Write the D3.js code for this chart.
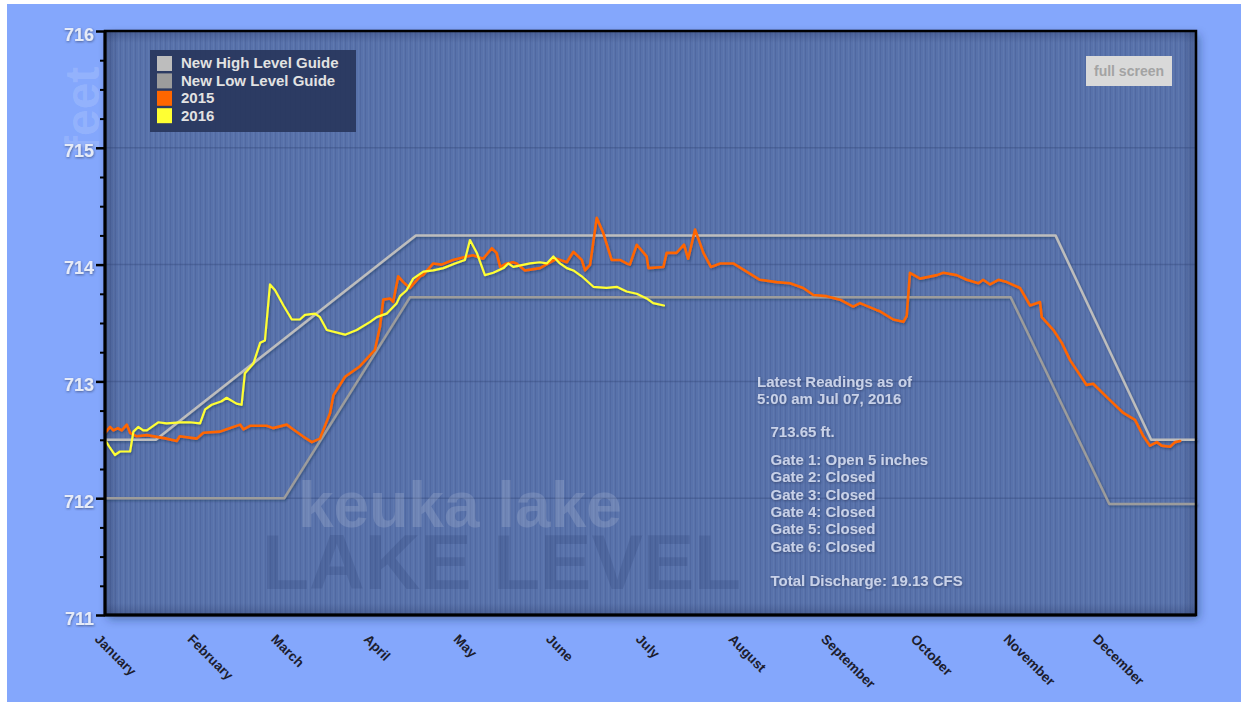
<!DOCTYPE html>
<html>
<head>
<meta charset="utf-8">
<script src="https://cdn.jsdelivr.net/npm/d3@7"></script>
<style>
  body { margin: 0; background: #fff; }
  svg { display: block; font-family: "Liberation Sans", Arial, Helvetica, sans-serif; }
</style>
</head>
<body>
<div id="chart"></div>
<script>
// ---- data ----
const monthNames = ["January", "February", "March", "April", "May", "June", "July",
  "August", "September", "October", "November", "December"];
const monthStarts = [0, 31, 59, 90, 120, 151, 181, 212, 243, 273, 304, 334];
const yMajor = [711, 712, 713, 714, 715, 716];

const highGuideDays = [0, 17, 104, 318, 350, 365];
const highGuideLevels = [712.5, 712.5, 714.25, 714.25, 712.5, 712.5];
const lowGuideDays = [0, 60, 102, 303, 336, 365];
const lowGuideLevels = [712, 712, 713.72, 713.72, 711.95, 711.95];

const days2015 = [0, 1.7, 2.8, 4.3, 5.6, 7.3, 8.4, 10.6, 14, 20.6, 24, 25, 30.7, 32.9, 38.5, 40.7,
  45.2, 46.3, 48.5, 54.1, 56.2, 60.8, 62.9, 66.2, 69.2, 71.9, 75.3, 76.4, 80.3, 85.3, 90.3, 92,
  93.1, 95.3, 96.4, 98.1, 99.8, 102, 105.4, 106.4, 109.8, 112.6, 116.4, 121, 123.1, 126.5, 129.4,
  131, 132.2, 134.4, 136.5, 137.7, 140.5, 145.5, 148.9, 151.1, 154.5, 156.7, 159.5, 160.6, 162.3,
  164.5, 166.7, 169.5, 172.3, 174.5, 175.6, 177.9, 181.2, 181.8, 186.8, 187.9, 191.2, 193.7, 195.1,
  197.4, 200.2, 202.7, 205.8, 210.2, 219.1, 224.7, 229.2, 233.6, 237, 241.4, 245.9, 250.3, 252.6,
  258.2, 259.3, 263.7, 267.1, 268.2, 269.3, 272.7, 278.3, 280.5, 284.9, 288.3, 292.2, 293.8, 296.1,
  298.9, 301.7, 306.1, 309.5, 312.8, 313.4, 317.3, 320.1, 322.9, 328.4, 330.6, 336.2, 340.7, 344.6,
  347.4, 349.6, 351.9, 353.5, 356.3, 358, 359.7];
const levels2015 = [712.56, 712.61, 712.58, 712.60, 712.58, 712.63, 712.56, 712.53, 712.54, 712.51,
  712.49, 712.53, 712.51, 712.56, 712.57, 712.59, 712.63, 712.59, 712.62, 712.62, 712.60, 712.63,
  712.59, 712.53, 712.48, 712.51, 712.73, 712.88, 713.04, 713.13, 713.27, 713.47, 713.70, 713.71,
  713.68, 713.90, 713.85, 713.80, 713.90, 713.91, 714.01, 714.00, 714.04, 714.07, 714.08, 714.05,
  714.14, 714.10, 713.98, 714.01, 714.02, 714.01, 713.95, 713.97, 714.02, 714.05, 714.02, 714.11,
  714.04, 713.95, 714.00, 714.40, 714.27, 714.04, 714.04, 714.01, 714.00, 714.17, 714.07, 713.97,
  713.98, 714.10, 714.10, 714.17, 714.05, 714.30, 714.10, 713.98, 714.01, 714.01, 713.87, 713.85,
  713.84, 713.80, 713.74, 713.73, 713.70, 713.64, 713.67, 713.61, 713.60, 713.53, 713.51, 713.56,
  713.93, 713.88, 713.91, 713.93, 713.91, 713.87, 713.84, 713.87, 713.83, 713.87, 713.85, 713.80,
  713.65, 713.68, 713.55, 713.44, 713.33, 713.18, 712.97, 712.98, 712.84, 712.73, 712.67, 712.53,
  712.45, 712.48, 712.45, 712.44, 712.48, 712.49];

const days2016 = [0, 1.7, 3.3, 5, 8.4, 9.5, 11.1, 12.8, 14, 17.8, 20.6, 25.1, 28.4, 31.8, 33.5,
  35.7, 39, 40.7, 44, 45.7, 46.8, 49.6, 51.9, 53.5, 55.2, 56.9, 59.7, 62.5, 65.2, 66.9, 70.3, 71.9,
  74.2, 80.3, 84.2, 88.7, 90.9, 94.2, 97.6, 98.7, 100.9, 103.1, 106.5, 109.8, 113.2, 117.1, 120.4,
  122.1, 124.4, 127.1, 129.9, 133.3, 134.9, 136.6, 142.2, 145.5, 147.8, 150, 152.2, 154.5, 156.7,
  159.5, 163.4, 167.8, 171.2, 174.5, 177.9, 181.2, 183.4, 187];
const levels2016 = [712.50, 712.43, 712.37, 712.40, 712.40, 712.57, 712.61, 712.58, 712.58, 712.65,
  712.64, 712.65, 712.65, 712.64, 712.76, 712.80, 712.83, 712.86, 712.81, 712.80, 713.07, 713.15,
  713.33, 713.35, 713.83, 713.78, 713.65, 713.53, 713.53, 713.57, 713.58, 713.55, 713.44, 713.40,
  713.44, 713.51, 713.55, 713.58, 713.67, 713.73, 713.78, 713.88, 713.94, 713.95, 713.97, 714.01,
  714.04, 714.21, 714.10, 713.91, 713.93, 713.97, 714.01, 713.98, 714.01, 714.02, 714.01, 714.07,
  714.01, 713.97, 713.95, 713.90, 713.81, 713.80, 713.81, 713.77, 713.75, 713.71, 713.67, 713.65];

const legendLabels = ["New High Level Guide", "New Low Level Guide", "2015", "2016"];
const legendColors = ["#bdbdbd", "#9c9c9c", "#ff6600", "#ffff33"];

const readingHead = ["Latest Readings as of", "5:00 am Jul 07, 2016"];
const readingLevel = "713.65 ft.";
const gateLines = ["Gate 1: Open 5 inches", "Gate 2: Closed", "Gate 3: Closed",
  "Gate 4: Closed", "Gate 5: Closed", "Gate 6: Closed"];
const dischargeLine = "Total Discharge: 19.13 CFS";

// ---- layout ----
const W = 1241, H = 702;
const plot = { left: 105, top: 31, right: 1196, bottom: 615 };

const svg = d3.select("#chart").append("svg").attr("width", W).attr("height", H);
const defs = svg.append("defs");

const x = d3.scaleLinear().domain([0, 365]).range([plot.left, plot.right]);
const y = d3.scaleLinear().domain([711, 716]).range([plot.bottom, plot.top]);

// stripes in plot background
const pat = defs.append("pattern").attr("id", "stripes")
  .attr("patternUnits", "userSpaceOnUse").attr("width", 5).attr("height", 10);
pat.append("rect").attr("x", 0).attr("width", 1).attr("height", 10).attr("fill", "rgba(20,30,70,0.10)");
pat.append("rect").attr("x", 3).attr("width", 1).attr("height", 10).attr("fill", "rgba(255,255,255,0.04)");

const shadow = defs.append("filter").attr("id", "boxShadow")
  .attr("x", "-5%").attr("y", "-5%").attr("width", "110%").attr("height", "115%");
shadow.append("feDropShadow").attr("dx", 3).attr("dy", 4).attr("stdDeviation", 5)
  .attr("flood-color", "#1c2a55").attr("flood-opacity", 0.45);

const lineShadow = defs.append("filter").attr("id", "lineShadow")
  .attr("x", "-5%").attr("y", "-20%").attr("width", "110%").attr("height", "140%");
lineShadow.append("feDropShadow").attr("dx", 1).attr("dy", 1.5).attr("stdDeviation", 1.2)
  .attr("flood-color", "#102040").attr("flood-opacity", 0.4);

const textShadow = defs.append("filter").attr("id", "textShadow")
  .attr("x", "-10%").attr("y", "-30%").attr("width", "120%").attr("height", "160%");
textShadow.append("feDropShadow").attr("dx", 0.5).attr("dy", 1).attr("stdDeviation", 1)
  .attr("flood-color", "#1a2748").attr("flood-opacity", 0.55);

function edgeGrad(id, x1, y1, x2, y2) {
  const g = defs.append("linearGradient").attr("id", id)
    .attr("x1", x1).attr("y1", y1).attr("x2", x2).attr("y2", y2);
  g.append("stop").attr("offset", 0).attr("stop-color", "#1a2650").attr("stop-opacity", 0.28);
  g.append("stop").attr("offset", 1).attr("stop-color", "#1a2650").attr("stop-opacity", 0);
}
edgeGrad("gl", 0, 0, 1, 0);
edgeGrad("gr", 1, 0, 0, 0);
edgeGrad("gt", 0, 0, 0, 1);
edgeGrad("gb", 0, 1, 0, 0);

// page background
svg.append("rect").attr("width", W).attr("height", H).attr("fill", "#fff");
svg.append("rect").attr("x", 7).attr("y", 4).attr("width", W - 7).attr("height", H - 4)
  .attr("fill", "#84a7fc");

// faint "feet" axis title
svg.append("text")
  .attr("transform", "translate(99,152) rotate(-90)")
  .attr("text-anchor", "start")
  .attr("font-size", 48).attr("font-weight", "bold")
  .attr("fill", "#ffffff").attr("fill-opacity", 0.15)
  .text("feet");

// plot background
const pw = plot.right - plot.left, ph = plot.bottom - plot.top;
svg.append("rect").attr("x", plot.left).attr("y", plot.top).attr("width", pw).attr("height", ph)
  .attr("fill", "#5872ab").attr("filter", "url(#boxShadow)");
svg.append("rect").attr("x", plot.left).attr("y", plot.top).attr("width", pw).attr("height", ph)
  .attr("fill", "url(#stripes)");
svg.append("rect").attr("x", plot.left).attr("y", plot.top).attr("width", 14).attr("height", ph).attr("fill", "url(#gl)");
svg.append("rect").attr("x", plot.right - 14).attr("y", plot.top).attr("width", 14).attr("height", ph).attr("fill", "url(#gr)");
svg.append("rect").attr("x", plot.left).attr("y", plot.top).attr("width", pw).attr("height", 12).attr("fill", "url(#gt)");
svg.append("rect").attr("x", plot.left).attr("y", plot.bottom - 12).attr("width", pw).attr("height", 12).attr("fill", "url(#gb)");

// grid lines
svg.append("g").selectAll("line").data(yMajor.slice(1, -1)).enter().append("line")
  .attr("x1", plot.left).attr("x2", plot.right)
  .attr("y1", d => y(d)).attr("y2", d => y(d))
  .attr("stroke", "#2f4272").attr("stroke-opacity", 0.35).attr("stroke-width", 1.5);

// watermark
svg.append("text").attr("x", 298).attr("y", 527)
  .attr("font-size", 64).attr("font-weight", "bold")
  .attr("fill", "#ffffff").attr("fill-opacity", 0.14)
  .text("keuka lake");
svg.append("text").attr("x", 262).attr("y", 589)
  .attr("font-size", 77).attr("font-weight", "bold")
  .attr("fill", "#1a2a60").attr("fill-opacity", 0.16)
  .text("LAKE LEVEL");

// readings text
const info = svg.append("g").attr("font-size", 15).attr("font-weight", "bold")
  .attr("fill", "#c8d1e8").attr("filter", "url(#textShadow)");
info.selectAll(".head").data(readingHead).enter().append("text")
  .attr("x", 757).attr("y", (d, i) => 386.7 + i * 17.6).text(d => d);
info.append("text").attr("x", 770.5).attr("y", 436.7).text(readingLevel);
info.selectAll(".gate").data(gateLines).enter().append("text")
  .attr("x", 770.5).attr("y", (d, i) => 465 + i * 17.35).text(d => d);
info.append("text").attr("x", 770.5).attr("y", 586).text(dischargeLine);

// series
const line = d3.line().x(d => x(d[0])).y(d => y(d[1]));
const zip = (a, b) => a.map((d, i) => [d, b[i]]);

const series = svg.append("g").attr("fill", "none").attr("stroke-linejoin", "round")
  .attr("stroke-linecap", "round").attr("filter", "url(#lineShadow)");
series.append("path").attr("d", line(zip(highGuideDays, highGuideLevels)))
  .attr("stroke", legendColors[0]).attr("stroke-width", 2.5);
series.append("path").attr("d", line(zip(lowGuideDays, lowGuideLevels)))
  .attr("stroke", legendColors[1]).attr("stroke-width", 2.5);
series.append("path").attr("d", line(zip(days2015, levels2015)))
  .attr("stroke", legendColors[2]).attr("stroke-width", 2.6);
series.append("path").attr("d", line(zip(days2016, levels2016)))
  .attr("stroke", legendColors[3]).attr("stroke-width", 2.2);

// frame
svg.append("rect").attr("x", plot.left).attr("y", plot.top).attr("width", pw).attr("height", ph)
  .attr("fill", "none").attr("stroke", "#000").attr("stroke-width", 2.5);

// y axis
const minorTicks = d3.range(711, 716.01, 0.25).filter(v => !Number.isInteger(v));
svg.append("g").attr("transform", `translate(${plot.left},0)`)
  .call(d3.axisLeft(y).tickValues(minorTicks).tickSize(5).tickFormat(""))
  .call(g => g.select(".domain").remove())
  .call(g => g.selectAll("line").attr("stroke", "#000").attr("stroke-width", 2));

svg.append("g").attr("transform", `translate(${plot.left},0)`)
  .call(d3.axisLeft(y).tickValues(yMajor).tickSize(9).tickPadding(2).tickFormat(d3.format("d")))
  .call(g => g.select(".domain").attr("stroke", "#000").attr("stroke-width", 3)
    .attr("d", `M0,${plot.top}V${plot.bottom}`))
  .call(g => g.selectAll("line").attr("stroke", "#000").attr("stroke-width", 2.5))
  .call(g => g.selectAll("text")
    .attr("font-family", "Liberation Sans, Arial, sans-serif")
    .attr("font-size", 18).attr("font-weight", "bold")
    .attr("fill", "#e6ebf7").attr("dy", "0.5em")
    .attr("filter", "url(#textShadow)"));

// bottom axis line
svg.append("line").attr("x1", plot.left).attr("x2", plot.right)
  .attr("y1", plot.bottom).attr("y2", plot.bottom)
  .attr("stroke", "#000").attr("stroke-width", 3);

// month labels
svg.append("g").selectAll("text").data(monthStarts).enter().append("text")
  .attr("transform", d => `translate(${x(d) - 11},640) rotate(45)`)
  .attr("font-size", 13.5).attr("font-weight", "bold").attr("fill", "#1c1d2e")
  .text((d, i) => monthNames[i]);

// legend
const legend = svg.append("g");
legend.append("rect").attr("x", 150).attr("y", 50).attr("width", 206).attr("height", 82)
  .attr("fill", "#28365c").attr("fill-opacity", 0.92);
const item = legend.selectAll(".item").data(legendLabels).enter().append("g")
  .attr("transform", (d, i) => `translate(157,${56 + i * 17.4})`);
item.append("rect").attr("width", 15).attr("height", 15)
  .attr("fill", (d, i) => legendColors[i]);
item.append("text").attr("x", 24).attr("y", 12.4)
  .attr("font-size", 15).attr("font-weight", "bold").attr("fill", "#e2e2e2")
  .text(d => d);

// full screen button
svg.append("rect").attr("x", 1086).attr("y", 56).attr("width", 86).attr("height", 30)
  .attr("fill", "#d9d9d9");
svg.append("text").attr("x", 1129).attr("y", 76).attr("text-anchor", "middle")
  .attr("font-size", 14).attr("font-weight", "bold").attr("fill", "#a3a3a3")
  .text("full screen");
</script>
</body>
</html>
